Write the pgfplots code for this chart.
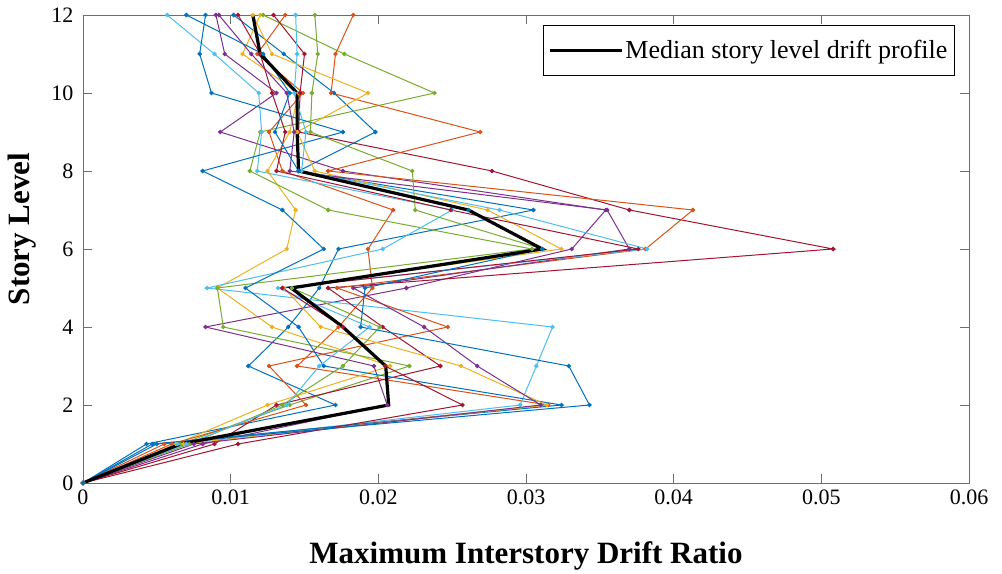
\documentclass[border=0pt]{standalone}
\usepackage{pgfplots}
\pgfplotsset{compat=1.18}
\usepackage{fontspec}
\setmainfont{Liberation Serif}
\definecolor{mB}{RGB}{0,114,189}
\definecolor{mO}{RGB}{217,83,25}
\definecolor{mY}{RGB}{237,177,32}
\definecolor{mP}{RGB}{126,47,142}
\definecolor{mG}{RGB}{119,172,48}
\definecolor{mL}{RGB}{77,190,238}
\definecolor{mR}{RGB}{162,20,47}
\definecolor{axgray}{RGB}{110,110,110}
\pgfplotsset{legend image code/.code={\draw[#1] (-4pt,0pt) -- (68pt,0pt);}}
\begin{document}
\begin{tikzpicture}
\begin{axis}[
  scale only axis, width=886pt, height=468pt,
  xmin=0, xmax=0.06, ymin=0, ymax=12,
  xtick={0,0.01,0.02,0.03,0.04,0.05,0.06},
  xticklabels={0,0.01,0.02,0.03,0.04,0.05,0.06},
  ytick={0,2,4,6,8,10,12},
  scaled x ticks=false,
  /pgf/number format/assume math mode=true,
  tick align=inside, major tick length=9pt,
  axis line style={axgray, line width=0.8pt},
  tick style={axgray, line width=0.8pt},
  ticklabel style={font=\fontsize{22}{26}\selectfont},
  xticklabel style={yshift=-3pt},
  yticklabel style={xshift=-6pt},
  xlabel={\bfseries Maximum Interstory Drift Ratio},
  ylabel={\bfseries Story Level},
  label style={font=\fontsize{31}{36}\selectfont},
  xlabel style={yshift=-30pt},
  ylabel style={xshift=20pt, yshift=8pt},
  every axis plot/.append style={line width=1.0pt, mark=*, mark size=1.7pt},
  legend style={at={(0.984,0.979)}, anchor=north east, draw=black, line width=0.8pt,
    font=\fontsize{26}{31}\selectfont, inner xsep=5pt, inner ysep=13pt},
  legend cell align=left,
]
\coordinate (bl) at (rel axis cs:0,0);
\coordinate (tr) at (rel axis cs:1,1);
\addplot[mB, forget plot] coordinates {(0,0) (0.0043,1) (0.0171,2) (0.0112,3) (0.0139,4) (0.0160,5) (0.0173,6) (0.0305,7) (0.0146,8) (0.0198,9) (0.0170,10) (0.0136,11) (0.0102,12)};
\addplot[mO, forget plot] coordinates {(0,0) (0.0055,1) (0.0315,2) (0.0145,3) (0.0173,4) (0.0196,5) (0.0193,6) (0.0210,7) (0.0135,8) (0.0126,9) (0.0149,10) (0.0118,11) (0.0137,12)};
\addplot[mY, forget plot] coordinates {(0,0) (0.0063,1) (0.0125,2) (0.0208,3) (0.0128,4) (0.0091,5) (0.0138,6) (0.0144,7) (0.0125,8) (0.0140,9) (0.0146,10) (0.0108,11) (0.0120,12)};
\addplot[mP, forget plot] coordinates {(0,0) (0.0081,1) (0.0206,2) (0.0197,3) (0.0083,4) (0.0219,5) (0.0331,6) (0.0354,7) (0.0176,8) (0.0093,9) (0.0131,10) (0.0096,11) (0.0090,12)};
\addplot[mG, forget plot] coordinates {(0,0) (0.0066,1) (0.0140,2) (0.0221,3) (0.0095,4) (0.0091,5) (0.0304,6) (0.0166,7) (0.0113,8) (0.0120,9) (0.0238,10) (0.0177,11) (0.0122,12)};
\addplot[mL, forget plot] coordinates {(0,0) (0.0064,1) (0.0296,2) (0.0307,3) (0.0318,4) (0.0084,5) (0.0203,6) (0.0250,7) (0.0118,8) (0.0121,9) (0.0119,10) (0.0089,11) (0.0057,12)};
\addplot[mR, forget plot] coordinates {(0,0) (0.0089,1) (0.0131,2) (0.0242,3) (0.0203,4) (0.0166,5) (0.0508,6) (0.0370,7) (0.0277,8) (0.0146,9) (0.0147,10) (0.0150,11) (0.0129,12)};
\addplot[mB, forget plot] coordinates {(0,0) (0.0047,1) (0.0324,2) (0.0163,3) (0.0146,4) (0.0110,5) (0.0163,6) (0.0135,7) (0.0081,8) (0.0176,9) (0.0087,10) (0.0079,11) (0.0083,12)};
\addplot[mO, forget plot] coordinates {(0,0) (0.0060,1) (0.0151,2) (0.0126,3) (0.0247,4) (0.0172,5) (0.0381,6) (0.0413,7) (0.0166,8) (0.0269,9) (0.0168,10) (0.0171,11) (0.0183,12)};
\addplot[mY, forget plot] coordinates {(0,0) (0.0068,1) (0.0314,2) (0.0256,3) (0.0161,4) (0.0136,5) (0.0324,6) (0.0274,7) (0.0157,8) (0.0145,9) (0.0193,10) (0.0128,11) (0.0115,12)};
\addplot[mP, forget plot] coordinates {(0,0) (0.0075,1) (0.0310,2) (0.0267,3) (0.0231,4) (0.0183,5) (0.0370,6) (0.0355,7) (0.0140,8) (0.0143,9) (0.0138,10) (0.0114,11) (0.0092,12)};
\addplot[mG, forget plot] coordinates {(0,0) (0.0072,1) (0.0135,2) (0.0176,3) (0.0201,4) (0.01415,5) (0.0311,6) (0.0225,7) (0.0223,8) (0.0154,9) (0.0155,10) (0.0159,11) (0.0157,12)};
\addplot[mL, forget plot] coordinates {(0,0) (0.0070,1) (0.0138,2) (0.0160,3) (0.0194,4) (0.0132,5) (0.0382,6) (0.0282,7) (0.0148,8) (0.0151,9) (0.0143,10) (0.0145,11) (0.0144,12)};
\addplot[mR, forget plot] coordinates {(0,0) (0.0105,1) (0.0257,2) (0.02045,3) (0.0176,4) (0.0135,5) (0.0376,6) (0.0249,7) (0.0131,8) (0.0137,9) (0.0128,10) (0.0120,11) (0.0105,12)};
\addplot[mB, forget plot] coordinates {(0,0) (0.0050,1) (0.0343,2) (0.0329,3) (0.0188,4) (0.0191,5) (0.0311,6) (0.0261,7) (0.0146,8) (0.0130,9) (0.0140,10) (0.0122,11) (0.0070,12)};
\addplot[black, line width=3.2pt, no marks]
  coordinates {(0,0) (0.0066,1) (0.0207,2) (0.0205,3) (0.0176,4) (0.0141,5) (0.0311,6) (0.0261,7) (0.0146,8) (0.0145,9) (0.0145,10) (0.0120,11) (0.0115,12)};
\addlegendentry{Median story level drift profile}
\end{axis}
\pgfresetboundingbox
\path ([shift={(-83pt,-90pt)}]bl) rectangle ([shift={(33pt,15pt)}]tr);
\end{tikzpicture}
\end{document}
